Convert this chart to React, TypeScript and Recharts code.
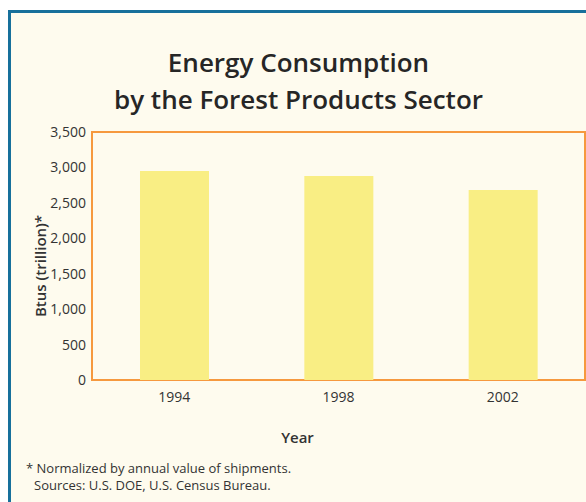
import { Bar, BarChart, ReferenceArea, XAxis, YAxis } from 'recharts'

const years = ['1994', '1998', '2002']
const btus = [2950, 2880, 2680]
const yTicks = [0, 500, 1000, 1500, 2000, 2500, 3000, 3500]

const data = years.map((year, i) => ({ year, btus: btus[i] }))

const FONT = '"Open Sans", "Noto Sans", sans-serif'
const TEXT = '#333333'
const ORANGE = '#F6993E'

export default function App() {
  return (
    <div
      style={{
        position: 'absolute',
        left: 8,
        top: 10,
        width: 578,
        height: 492,
        boxSizing: 'border-box',
        borderLeft: '3px solid #17709B',
        borderTop: '3px solid #17709B',
        background: '#FEFBEE',
        fontFamily: FONT,
        color: TEXT,
      }}
    >
      <div
        style={{
          position: 'absolute',
          left: 0,
          top: 31,
          width: 575,
          textAlign: 'center',
          fontSize: 26,
          fontWeight: 600,
          lineHeight: '37px',
          color: '#262626',
        }}
      >
        Energy Consumption
        <br />
        by the Forest Products Sector
      </div>
      <BarChart
        width={575}
        height={489}
        data={data}
        margin={{ top: 119, right: 1, bottom: 92, left: 21 }}
        barSize={69}
      >
        <XAxis
          dataKey="year"
          axisLine={false}
          tickLine={false}
          tickMargin={6}
          tick={{ fill: TEXT, fontSize: 14, fontFamily: FONT }}
          height={30}
          label={{
            value: 'Year',
            position: 'insideBottom',
            dx: -41,
            dy: 38,
            fill: TEXT,
            fontSize: 15,
            fontWeight: 600,
            fontFamily: FONT,
          }}
        />
        <YAxis
          width={60}
          domain={[0, 3500]}
          ticks={yTicks}
          interval={0}
          axisLine={false}
          tickLine={false}
          tickMargin={0}
          tickFormatter={(v: number) => v.toLocaleString('en-US')}
          tick={{ fill: TEXT, fontSize: 14, fontFamily: FONT }}
          label={{
            value: 'Btus (trillion)*',
            angle: -90,
            position: 'insideLeft',
            dx: 4,
            dy: 10,
            style: { textAnchor: 'middle' },
            fill: TEXT,
            fontSize: 15,
            fontWeight: 600,
            fontFamily: FONT,
          }}
        />
        <Bar dataKey="btus" fill="#F9EE84" isAnimationActive={false} />
        <ReferenceArea y1={0} y2={3500} fill="none" stroke={ORANGE} strokeWidth={2} ifOverflow="visible" />
      </BarChart>
      <div
        style={{
          position: 'absolute',
          left: 15,
          top: 447,
          fontSize: 13,
          lineHeight: '17px',
          color: TEXT,
        }}
      >
        <div>* Normalized by annual value of shipments.</div>
        <div style={{ paddingLeft: 8 }}>Sources: U.S. DOE, U.S. Census Bureau.</div>
      </div>
    </div>
  )
}
